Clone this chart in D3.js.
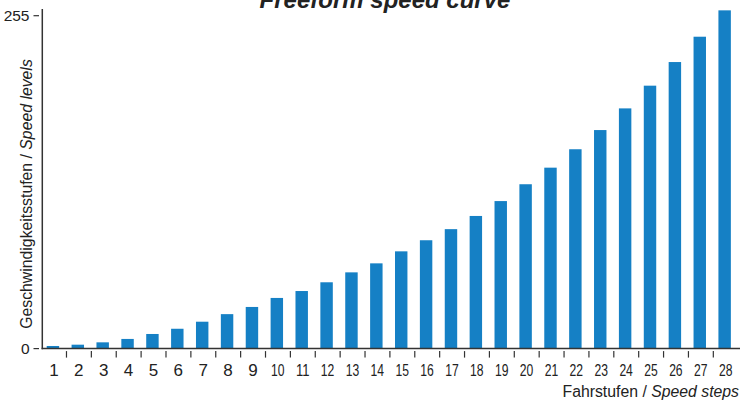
<!DOCTYPE html>
<html>
<head>
<meta charset="utf-8">
<script src="https://cdn.jsdelivr.net/npm/d3@7"></script>
<style>
    body { margin: 0; background: #fff; }
    text { font-family: "Liberation Sans", Arial, sans-serif; fill: #222; }
</style>
</head>
<body>
<div id="chart-container"></div>
<script>
/*
    Fahrstufen-Kennlinie (freie Kennlinie) als Balkendiagramm
 */

var speed_steps = d3.range(1, 29);

var speed_levels = [
    2.0, 3.0, 4.8, 7.4, 11.2, 15.2, 20.6, 26.4, 31.9, 38.8,
    44.1, 50.8, 58.4, 65.3, 74.5, 83.0, 91.5, 101.6, 113.0, 125.9,
    138.6, 152.7, 167.4, 184.0, 201.4, 219.5, 238.9, 259.1
];

var y_ticks = [0, 255];

var svg_size = {
    'width': 743,
    'height': 401
};

var chart_option = {
    'left': 41.6,
    'right': 738.2,
    'top': 15.7,
    'bottom': 348.6,
    'bar_color': '#1580c5',
    'axis_color': '#333'
};

var svg = d3.select("#chart-container")
    .append("svg")
    .attr('width', svg_size.width)
    .attr('height', svg_size.height);

var x_scale = d3.scaleBand()
    .domain(speed_steps)
    .range([chart_option.left, chart_option.right])
    .paddingInner(0.5)
    .paddingOuter(0.25)
    .align(0.41);

var y_scale = d3.scaleLinear()
    .domain([0, 255])
    .range([chart_option.bottom, chart_option.top]);

// bars
svg.append('g')
    .selectAll('.bar')
    .data(speed_levels)
    .enter()
    .append('rect')
    .classed('bar', true)
    .attr('x', function(d, i){
        return x_scale(speed_steps[i]);
    })
    .attr('y', function(d, i){
        return y_scale(d);
    })
    .attr('width', x_scale.bandwidth())
    .attr('height', function(d, i){
        return y_scale(0) - y_scale(d);
    })
    .style('fill', chart_option.bar_color);

// x axis line + ticks
svg.append('line')
    .attr('x1', chart_option.left)
    .attr('x2', 740)
    .attr('y1', y_scale(0))
    .attr('y2', y_scale(0))
    .style('stroke', chart_option.axis_color)
    .style('stroke-width', 1.5);

svg.append('g')
    .selectAll('.x-tick')
    .data(speed_steps.slice(1))
    .enter()
    .append('line')
    .classed('x-tick', true)
    .attr('x1', function(d){ return chart_option.left + (d - 1) * x_scale.step(); })
    .attr('x2', function(d){ return chart_option.left + (d - 1) * x_scale.step(); })
    .attr('y1', y_scale(0) + 2.5)
    .attr('y2', y_scale(0) + 9)
    .style('stroke', chart_option.axis_color)
    .style('stroke-width', 1.2);

svg.append('g')
    .selectAll('.x-label')
    .data(speed_steps)
    .enter()
    .append('text')
    .classed('x-label', true)
    .attr('x', function(d){ return x_scale(d) + x_scale.bandwidth()/2 + 1; })
    .attr('y', 375.5)
    .attr('text-anchor', 'middle')
    .style('font-size', '17px')
    .each(function(d){
        if (d >= 10) {
            d3.select(this)
                .attr('textLength', 13.5)
                .attr('lengthAdjust', 'spacingAndGlyphs');
        }
    })
    .text(function(d){ return d; });

// y axis
svg.append('line')
    .attr('x1', 42.3)
    .attr('x2', 42.3)
    .attr('y1', 9)
    .attr('y2', y_scale(0) + 0.7)
    .style('stroke', chart_option.axis_color)
    .style('stroke-width', 1.5);

var y_tick_enter = svg.append('g')
    .selectAll('.y-tick')
    .data(y_ticks)
    .enter()
    .append('g')
    .classed('y-tick', true);

y_tick_enter.append('line')
    .attr('x1', 33.5)
    .attr('x2', 39)
    .attr('y1', function(d){ return y_scale(d); })
    .attr('y2', function(d){ return y_scale(d); })
    .style('stroke', chart_option.axis_color)
    .style('stroke-width', 1.2);

y_tick_enter.append('text')
    .attr('x', 29.5)
    .attr('y', function(d){ return y_scale(d); })
    .attr('dy', '0.36em')
    .attr('text-anchor', 'end')
    .style('font-size', '15.5px')
    .text(function(d){ return d; });

// axis titles
var y_title = svg.append('text')
    .attr('transform', 'translate(31.5,194) rotate(-90)')
    .attr('text-anchor', 'middle')
    .style('font-size', '15.8px');
y_title.append('tspan').text('Geschwindigkeitsstufen / ');
y_title.append('tspan').style('font-style', 'italic').text('Speed levels');

var x_title = svg.append('text')
    .attr('x', 739)
    .attr('y', 397)
    .attr('text-anchor', 'end')
    .style('font-size', '15.8px');
x_title.append('tspan').text('Fahrstufen / ');
x_title.append('tspan').style('font-style', 'italic').text('Speed steps');

// title (oben abgeschnitten)
svg.append('text')
    .attr('x', 385)
    .attr('y', 8)
    .attr('text-anchor', 'middle')
    .style('font-size', '24px')
    .style('font-weight', 'bold')
    .style('font-style', 'italic')
    .text('Freeform speed curve');
</script>
</body>
</html>
